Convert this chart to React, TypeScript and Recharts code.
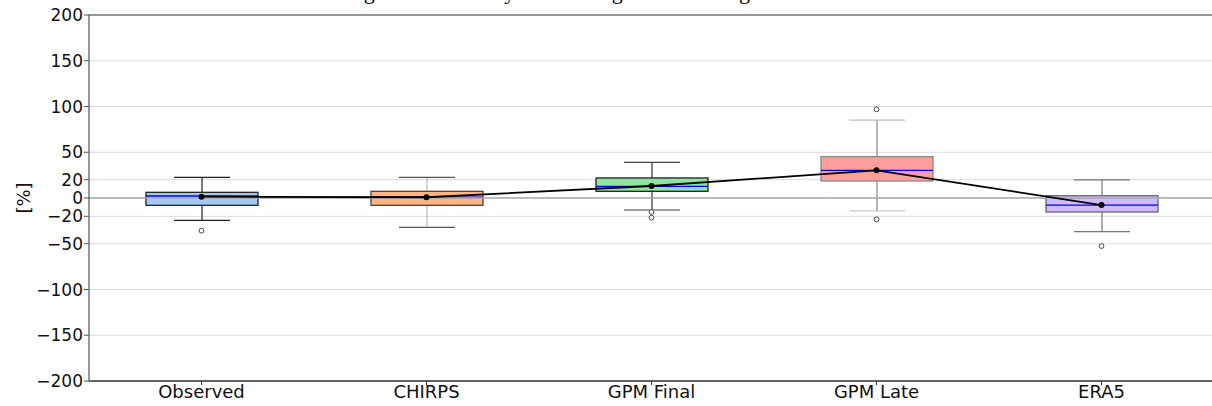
import React from "react";
import {
  ComposedChart,
  Bar,
  Line,
  XAxis,
  YAxis,
  CartesianGrid,
  ReferenceLine,
} from "recharts";

const categories = ["Observed", "CHIRPS", "GPM Final", "GPM Late", "ERA5"];
const whiskerLow = [-24.4, -32, -13.1, -14.2, -36.8];
const q1 = [-8, -8, 7.3, 18.6, -15.3];
const median = [2.2, 1, 12.8, 30.2, -7.7];
const q3 = [6.2, 7.3, 21.9, 45.2, 2.5];
const whiskerHigh = [22.6, 22.6, 39, 85.2, 19.7];
const mean = [1.4, 0.8, 13.1, 30.2, -7.7];
const outlierA = [-35.7, null, -15.3, -23.3, -52.5];
const outlierB = [null, null, -21.5, 96.9, null];
const yTicks = [-200, -150, -100, -50, -20, 0, 20, 50, 100, 150, 200];

const boxFill = ["#a1c9f4", "#ffb482", "#8de5a1", "#ff9f9b", "#d0bbff"];
const boxEdge = ["#222", "#444", "#222", "#888", "#666"];
const whiskerColor = ["#222", "#bbb", "#333", "#888", "#777"];
const capColor = ["#222", "#555", "#444", "#bbb", "#777"];

const data = categories.map((name, i) => ({
  name,
  whisker: [whiskerLow[i], whiskerHigh[i]],
  q1: q1[i],
  q3: q3[i],
  median: median[i],
  mean: mean[i],
  outA: outlierA[i],
  outB: outlierB[i],
}));

const FONT = "DejaVu Sans, sans-serif";

// box + whiskers drawn from the range bar [low, high]
function BoxShape(props: any) {
  const { x, y, width, height, payload, index } = props;
  const [lo, hi] = payload.whisker;
  const top = Math.min(y, y + height);
  const h = Math.abs(height);
  const k = h / (hi - lo);
  const py = (v: number) => top + (hi - v) * k;
  const cx = x + width / 2;
  const cap = width / 4;
  const i = index ?? categories.indexOf(payload.name);
  return (
    <g>
      <line x1={cx} x2={cx} y1={py(hi)} y2={py(payload.q3)} stroke={whiskerColor[i]} strokeWidth={1.2} />
      <line x1={cx} x2={cx} y1={py(payload.q1)} y2={py(lo)} stroke={whiskerColor[i]} strokeWidth={1.2} />
      <line x1={cx - cap} x2={cx + cap} y1={py(hi)} y2={py(hi)} stroke={capColor[i]} strokeWidth={1.2} />
      <line x1={cx - cap} x2={cx + cap} y1={py(lo)} y2={py(lo)} stroke={capColor[i]} strokeWidth={1.2} />
      <rect
        x={x}
        y={py(payload.q3)}
        width={width}
        height={py(payload.q1) - py(payload.q3)}
        fill={boxFill[i]}
        stroke={boxEdge[i]}
        strokeWidth={1.3}
      />
      <line x1={x} x2={x + width} y1={py(payload.median)} y2={py(payload.median)} stroke="#0000ff" strokeWidth={1.3} />
    </g>
  );
}

function OutlierDot(props: any) {
  const { cx, cy, value, index, dataKey } = props;
  if (value == null || cy == null) return <g key={`${dataKey}-${index}`} />;
  return (
    <circle key={`${dataKey}-${index}`} cx={cx} cy={cy} r={2.4} fill="#fff" stroke="#333" strokeWidth={0.9} />
  );
}

const fmt = (v: number) => (v < 0 ? `\u2212${-v}` : `${v}`);

export default function App() {
  return (
    <div
      style={{
        position: "absolute",
        left: 0,
        top: 0,
        width: 1212,
        height: 406,
        overflow: "hidden",
        background: "#fff",
      }}
    >
      <svg width={1212} height={20} style={{ position: "absolute", left: 0, top: 0, zIndex: 2 }}>
        <text x={288} y={-1} fontFamily="Liberation Serif, serif" fontSize={22} fill="#000">
          Percentage Bias of Yearly Rainfall Against the Gauge Data
        </text>
      </svg>
      <ComposedChart
        width={1214}
        height={406}
        data={data}
        margin={{ top: 15, right: 0, bottom: 0, left: 0 }}
      >
        <CartesianGrid vertical={false} stroke="#dcdcdc" />
        <ReferenceLine y={0} stroke="#aaa" strokeWidth={1.5} />
        <ReferenceLine y={200} stroke="#777" strokeWidth={1.5} />
        <XAxis
          dataKey="name"
          height={25}
          tickSize={4}
          tickMargin={0}
          interval={0}
          axisLine={{ stroke: "#333", strokeWidth: 1.5 }}
          tickLine={{ stroke: "#333" }}
          tick={{ fontSize: 18, fill: "#111", fontFamily: FONT }}
        />
        <YAxis
          type="number"
          domain={[-200, 200]}
          ticks={yTicks}
          interval={0}
          width={89}
          tickSize={5}
          tickMargin={1}
          tickFormatter={fmt}
          axisLine={{ stroke: "#555", strokeWidth: 1.2 }}
          tickLine={{ stroke: "#555" }}
          tick={{ fontSize: 17, fill: "#111", fontFamily: FONT }}
          label={{
            value: "[%]",
            angle: -90,
            position: "center",
            dx: -21,
            style: { fontSize: 18, fill: "#111", fontFamily: FONT },
          }}
        />
        <Bar dataKey="whisker" barSize={112} shape={<BoxShape />} isAnimationActive={false} />
        <Line
          dataKey="mean"
          type="linear"
          stroke="#000"
          strokeWidth={1.8}
          dot={{ r: 3, fill: "#000", stroke: "#000", strokeWidth: 0 }}
          activeDot={false}
          isAnimationActive={false}
        />
        <Line dataKey="outA" stroke="none" dot={<OutlierDot />} activeDot={false} isAnimationActive={false} />
        <Line dataKey="outB" stroke="none" dot={<OutlierDot />} activeDot={false} isAnimationActive={false} />
      </ComposedChart>
    </div>
  );
}
